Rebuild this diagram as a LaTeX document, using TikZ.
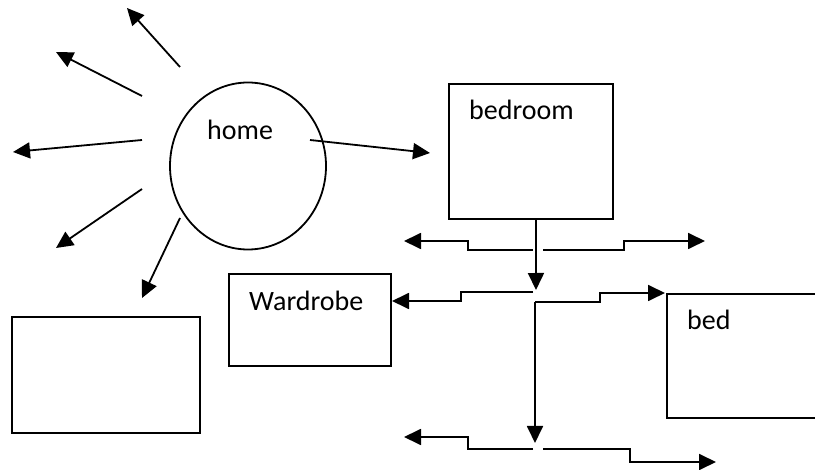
\documentclass[tikz,border=0pt]{standalone}
\usepackage{fontspec}
\setmainfont{Carlito}
\usetikzlibrary{arrows.meta,shapes.geometric}
\tikzset{
  arr/.style={line width=1.8pt,-{Triangle[length=17pt,width=16pt]}},
  room/.style={draw,line width=1.8pt,rectangle,anchor=north west,inner sep=0pt},
  lbl/.style={anchor=base west,inner sep=0pt,font=\fontsize{28}{34}\selectfont}
}
\begin{document}
\begin{tikzpicture}[x=1pt,y=-1pt]
\clip (0,0) rectangle (815,470);
%\draw[step=50,gray,very thin] (0,0) grid (815,470);
\node[draw,line width=1.8pt,ellipse,minimum width=156pt,minimum height=167pt] (home) at (248,166) {};
\node[lbl] (homelbl) at (207,140) {home};
\node[room,minimum width=164pt,minimum height=135pt] (bedroom) at (448,83) {};
\node[lbl] (bedroomlbl) at (469,120) {bedroom};
\node[room,minimum width=162pt,minimum height=92pt] (wardrobe) at (228,273) {};
\node[lbl] (wardrobelbl) at (249,311) {Wardrobe};
\node[room,minimum width=188pt,minimum height=116pt] (empty) at (11,316) {};
\node[room,minimum width=200pt,minimum height=124pt] (bed) at (666,293) {};
\node[lbl] (bedlbl) at (687,330) {bed};
% rays
\coordinate (r1) at (180,67);  \coordinate (t1) at (127,8);
\coordinate (r2) at (142,96);  \coordinate (t2) at (56,52);
\coordinate (r3) at (142,140); \coordinate (t3) at (13,152);
\coordinate (r4) at (142,189); \coordinate (t4) at (56,248);
\coordinate (r5) at (180,218); \coordinate (t5) at (142,298);
\draw[arr] (r1) -- (t1);
\draw[arr] (r2) -- (t2);
\draw[arr] (r3) -- (t3);
\draw[arr] (r4) -- (t4);
\draw[arr] (r5) -- (t5);
\coordinate (h0) at (310,140);
\coordinate (h1) at (430,153);
\draw[arr] (h0) -- (h1);
% bedroom down
\coordinate (j1) at (536,290);
\draw[arr] ([xshift=5pt]bedroom.south) -- (j1);
% upper steps
\coordinate (a1) at (404,241);
\coordinate (a2) at (705,241);
\draw[arr] (533,250) -- (468,250) -- (468,241) -- (a1);
\draw[arr] (543,250) -- (624,250) -- (624,241) -- (a2);
% middle steps
\coordinate (b1) at (392,301);
\coordinate (b2) at (665,293);
\draw[arr] (533,292) -- (461,292) -- (461,301) -- (b1);
\draw[arr] (535,302) -- (600,302) -- (600,293) -- (b2);
\coordinate (j2) at (535,443);
\draw[arr] (535,302) -- (j2);
% lower steps
\coordinate (c1) at (404,437);
\coordinate (c2) at (716,462);
\draw[arr] (533,449) -- (468,449) -- (468,437) -- (c1);
\draw[arr] (543,449) -- (630,449) -- (630,462) -- (c2);
\end{tikzpicture}
\end{document}
